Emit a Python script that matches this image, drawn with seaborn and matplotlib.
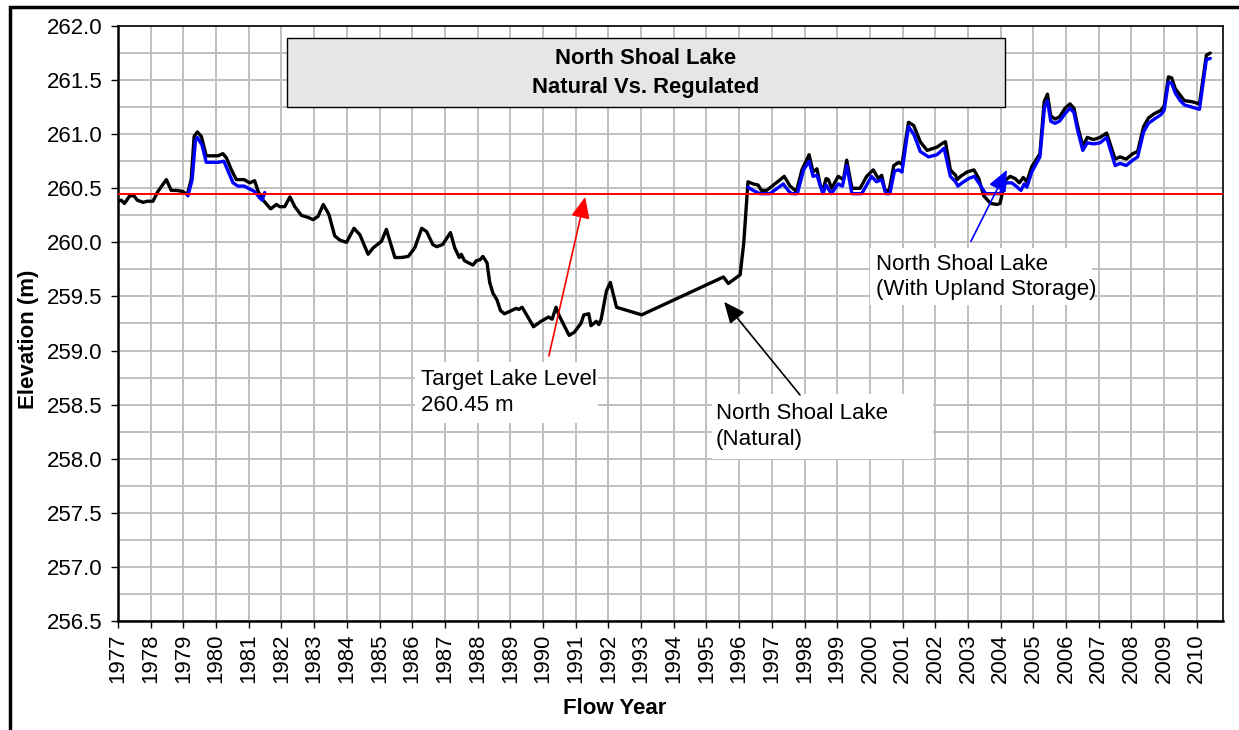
import pandas as pd
import numpy as np

import seaborn as sns
import matplotlib.pyplot as plt
from matplotlib.patches import Rectangle

# North Shoal Lake - natural levels (m)
natural_year = [
    1977.00, 1977.10, 1977.20, 1977.36, 1977.49, 1977.59, 1977.77, 1977.90, 1978.07, 1978.22,
    1978.48, 1978.63, 1978.79, 1978.99, 1979.12, 1979.24, 1979.33, 1979.43, 1979.55, 1979.70,
    1980.06, 1980.21, 1980.32, 1980.47, 1980.62, 1980.86, 1981.03, 1981.18, 1981.29, 1981.44,
    1981.67, 1981.85, 1981.95, 1982.10, 1982.26, 1982.41, 1982.61, 1982.82, 1982.97, 1983.12,
    1983.28, 1983.45, 1983.63, 1983.79, 1983.99, 1984.22, 1984.40, 1984.65, 1984.81, 1985.06,
    1985.21, 1985.47, 1985.67, 1985.88, 1986.08, 1986.29, 1986.44, 1986.63, 1986.75, 1986.93,
    1987.17, 1987.30, 1987.44, 1987.50, 1987.60, 1987.86, 1987.96, 1988.08, 1988.16, 1988.29,
    1988.37, 1988.47, 1988.59, 1988.70, 1988.82, 1988.97, 1989.18, 1989.26, 1989.36, 1989.50,
    1989.71, 1989.94, 1990.17, 1990.28, 1990.40, 1990.50, 1990.65, 1990.80, 1990.96, 1991.16,
    1991.25, 1991.40, 1991.47, 1991.63, 1991.71, 1991.78, 1991.94, 1992.06, 1992.25, 1993.02,
    1995.52, 1995.67, 1996.03, 1996.14, 1996.27, 1996.43, 1996.58, 1996.68, 1996.84, 1997.05,
    1997.38, 1997.56, 1997.75, 1997.92, 1998.14, 1998.26, 1998.38, 1998.48, 1998.56, 1998.66,
    1998.73, 1998.83, 1999.03, 1999.19, 1999.29, 1999.45, 1999.70, 1999.90, 2000.10, 2000.26,
    2000.36, 2000.46, 2000.59, 2000.73, 2000.88, 2000.98, 2001.18, 2001.34, 2001.54, 2001.75,
    2002.05, 2002.24, 2002.31, 2002.46, 2002.62, 2002.67, 2002.77, 2002.97, 2003.18, 2003.33,
    2003.48, 2003.69, 2003.89, 2003.98, 2004.13, 2004.29, 2004.44, 2004.57, 2004.69, 2004.80,
    2004.95, 2005.20, 2005.33, 2005.43, 2005.53, 2005.66, 2005.80, 2005.97, 2006.12, 2006.24,
    2006.35, 2006.51, 2006.65, 2006.84, 2007.04, 2007.24, 2007.50, 2007.65, 2007.84, 2008.04,
    2008.19, 2008.37, 2008.52, 2008.70, 2008.90, 2009.00, 2009.13, 2009.23, 2009.34, 2009.49,
    2009.62, 2009.85, 2010.08, 2010.29, 2010.41,
]
natural_elev = [
    260.38, 260.39, 260.36, 260.43, 260.43, 260.39, 260.37, 260.38, 260.38, 260.47,
    260.58, 260.48, 260.48, 260.47, 260.44, 260.58, 260.98, 261.02, 260.98, 260.80,
    260.80, 260.82, 260.78, 260.67, 260.58, 260.58, 260.55, 260.57, 260.47, 260.39,
    260.31, 260.35, 260.33, 260.33, 260.42, 260.33, 260.25, 260.23, 260.21, 260.24,
    260.35, 260.26, 260.06, 260.02, 260.00, 260.13, 260.07, 259.89, 259.95, 260.01,
    260.12, 259.86, 259.86, 259.87, 259.95, 260.13, 260.10, 259.98, 259.96, 259.98,
    260.09, 259.95, 259.86, 259.89, 259.83, 259.79, 259.83, 259.84, 259.87, 259.81,
    259.63, 259.53, 259.47, 259.37, 259.34, 259.36, 259.39, 259.38, 259.40, 259.33,
    259.22, 259.27, 259.31, 259.29, 259.40, 259.32, 259.23, 259.14, 259.17, 259.25,
    259.33, 259.34, 259.23, 259.27, 259.24, 259.29, 259.55, 259.63, 259.40, 259.33,
    259.68, 259.62, 259.70, 259.99, 260.56, 260.54, 260.53, 260.48, 260.48, 260.53,
    260.61, 260.52, 260.47, 260.67, 260.81, 260.65, 260.68, 260.53, 260.48, 260.59,
    260.58, 260.50, 260.61, 260.58, 260.76, 260.50, 260.50, 260.61, 260.67, 260.59,
    260.62, 260.48, 260.48, 260.71, 260.74, 260.72, 261.11, 261.08, 260.93, 260.85,
    260.88, 260.92, 260.93, 260.67, 260.62, 260.58, 260.61, 260.65, 260.67, 260.59,
    260.43, 260.36, 260.35, 260.36, 260.57, 260.61, 260.59, 260.55, 260.60, 260.56,
    260.70, 260.82, 261.30, 261.37, 261.17, 261.14, 261.16, 261.24, 261.28, 261.24,
    261.08, 260.89, 260.97, 260.95, 260.97, 261.01, 260.77, 260.79, 260.77, 260.82,
    260.84, 261.07, 261.15, 261.19, 261.22, 261.26, 261.53, 261.52, 261.42, 261.36,
    261.31, 261.30, 261.28, 261.73, 261.75,
]

# North Shoal Lake - with upland storage (two separate runs)
upland_year_a = [
    1979.14, 1979.27, 1979.37, 1979.43, 1979.57, 1979.70, 1980.06, 1980.24, 1980.52, 1980.67,
    1980.86, 1981.18, 1981.34, 1981.41, 1981.49,
]
upland_elev_a = [
    260.43, 260.58, 260.94, 260.97, 260.90, 260.74, 260.74, 260.75, 260.55, 260.52,
    260.52, 260.47, 260.41, 260.39, 260.46,
]
upland_year_b = [
    1996.27, 1996.43, 1996.63, 1996.94, 1997.35, 1997.50, 1997.60, 1997.78, 1997.97, 1998.14,
    1998.26, 1998.38, 1998.56, 1998.66, 1998.82, 1999.03, 1999.16, 1999.29, 1999.45, 1999.75,
    2000.05, 2000.20, 2000.36, 2000.49, 2000.61, 2000.75, 2000.88, 2000.98, 2001.18, 2001.34,
    2001.54, 2001.79, 2002.05, 2002.27, 2002.46, 2002.62, 2002.69, 2002.82, 2003.02, 2003.19,
    2003.33, 2003.54, 2003.98, 2004.16, 2004.34, 2004.47, 2004.62, 2004.72, 2004.80, 2004.95,
    2005.20, 2005.34, 2005.43, 2005.53, 2005.66, 2005.80, 2005.97, 2006.12, 2006.24, 2006.35,
    2006.51, 2006.65, 2006.84, 2007.04, 2007.24, 2007.50, 2007.65, 2007.84, 2008.04, 2008.19,
    2008.37, 2008.52, 2008.70, 2008.90, 2009.00, 2009.13, 2009.23, 2009.34, 2009.49, 2009.62,
    2009.85, 2010.08, 2010.29, 2010.41,
]
upland_elev_b = [
    260.51, 260.48, 260.45, 260.45, 260.54, 260.48, 260.45, 260.45, 260.67, 260.75,
    260.61, 260.62, 260.45, 260.53, 260.45, 260.54, 260.52, 260.71, 260.45, 260.45,
    260.61, 260.56, 260.58, 260.45, 260.45, 260.66, 260.67, 260.65, 261.07, 261.00,
    260.84, 260.79, 260.81, 260.87, 260.61, 260.56, 260.52, 260.55, 260.59, 260.61,
    260.55, 260.45, 260.45, 260.55, 260.55, 260.52, 260.48, 260.54, 260.51, 260.65,
    260.79, 261.25, 261.31, 261.12, 261.10, 261.12, 261.19, 261.24, 261.20, 261.04,
    260.85, 260.92, 260.91, 260.92, 260.97, 260.71, 260.73, 260.71, 260.76, 260.79,
    261.02, 261.10, 261.14, 261.18, 261.22, 261.48, 261.47, 261.38, 261.31, 261.27,
    261.25, 261.23, 261.69, 261.70,
]

target_level = 260.45
year_ticks = list(range(1977, 2011))
elev_ticks = [256.5, 257.0, 257.5, 258.0, 258.5, 259.0, 259.5, 260.0, 260.5, 261.0, 261.5, 262.0]


def PlotLakeLevels(outfile):

    natural = pd.DataFrame({'Year': natural_year, 'Elevation': natural_elev})
    upland = pd.DataFrame({
        'Year': upland_year_a + upland_year_b,
        'Elevation': upland_elev_a + upland_elev_b,
        'Run': ['a'] * len(upland_year_a) + ['b'] * len(upland_year_b),
    })

    sns.set_theme(style='white')
    plt.rcParams['font.family'] = ['Liberation Sans', 'DejaVu Sans']
    plt.rcParams['text.color'] = 'black'
    plt.rcParams['axes.labelcolor'] = 'black'
    plt.rcParams['xtick.color'] = 'black'
    plt.rcParams['ytick.color'] = 'black'

    fig = plt.figure(figsize=(12.39, 7.30), dpi=100)
    ax = fig.add_axes([0.0952, 0.1493, 0.8919, 0.8151])

    # grid like the excel chart
    ax.set_xticks(year_ticks)
    ax.set_yticks(elev_ticks)
    ax.set_yticks(np.arange(256.75, 262.0, 0.5), minor=True)
    ax.grid(True, which='both', color='#c0c0c0', linewidth=1.4)
    ax.set_axisbelow(True)

    sns.lineplot(data=natural, x='Year', y='Elevation', color='black', linewidth=2.4,
                 ax=ax, zorder=3, sort=False)
    sns.lineplot(data=upland, x='Year', y='Elevation', units='Run', estimator=None,
                 color='#0000ff', linewidth=2.4, ax=ax, zorder=4, sort=False)
    ax.axhline(target_level, color='#ff0000', linewidth=1.4, zorder=5)

    ax.set_xlim(1977, 2010.8)
    ax.set_ylim(256.5, 262.0)
    ax.set_yticklabels([f'{v:.1f}' for v in elev_ticks])
    ax.set_xticklabels([str(y) for y in year_ticks], rotation=90)
    ax.tick_params(axis='both', which='major', labelsize=16, direction='out',
                   length=5, width=1, color='black', labelcolor='black', left=True, bottom=True)
    ax.tick_params(axis='y', which='minor', length=0)
    ax.tick_params(axis='y', pad=6)
    ax.tick_params(axis='x', pad=4)

    for s in ax.spines.values():
        s.set_color('black')
        s.set_linewidth(1.2)
    ax.spines['left'].set_linewidth(1.8)
    ax.spines['bottom'].set_linewidth(1.8)

    ax.set_xlabel('Flow Year', fontsize=16, fontweight='bold', color='black')
    ax.set_ylabel('Elevation (m)', fontsize=16, fontweight='bold', color='black')
    ax.xaxis.set_label_coords(0.4498, -0.129)
    ax.yaxis.set_label_coords(-0.071, 0.474)

    # title box
    ax.add_patch(Rectangle((0.153, 0.864), 0.6497, 0.116, transform=ax.transAxes,
                           facecolor='#e6e6e6', edgecolor='black', linewidth=1, zorder=6))
    ax.text(0.4778, 0.921, 'North Shoal Lake\nNatural Vs. Regulated', transform=ax.transAxes,
            ha='center', va='center', fontsize=15.8, fontweight='bold', linespacing=1.45,
            color='black', zorder=7)

    # label boxes
    ax.add_patch(Rectangle((1986.09, 258.330), 5.59, 0.564, facecolor='white',
                           edgecolor='none', zorder=6))
    ax.text(1986.27, 258.61, 'Target Lake Level\n260.45 m', ha='left', va='center',
            fontsize=16, linespacing=1.3, color='black', zorder=7)
    ax.add_patch(Rectangle((1995.17, 257.997), 6.76, 0.601, facecolor='white',
                           edgecolor='none', zorder=6))
    ax.text(1995.29, 258.30, 'North Shoal Lake\n(Natural)', ha='left', va='center',
            fontsize=16, linespacing=1.3, color='black', zorder=7)
    ax.add_patch(Rectangle((2000.0, 259.421), 6.79, 0.527, facecolor='white',
                           edgecolor='none', zorder=6))
    ax.text(2000.19, 259.68, 'North Shoal Lake\n(With Upland Storage)', ha='left', va='center',
            fontsize=16, linespacing=1.3, color='black', zorder=7)

    arrow = dict(arrowstyle='-|>,head_length=0.5,head_width=0.22', mutation_scale=26,
                 linewidth=1.2, shrinkA=0, shrinkB=0)
    ax.annotate('', xy=(1991.29, 260.42), xytext=(1990.18, 258.95),
                arrowprops=dict(arrow, color='#ff0000'), zorder=8)
    ax.annotate('', xy=(1995.54, 259.45), xytext=(1997.86, 258.59),
                arrowprops=dict(arrow, color='black'), zorder=8)
    ax.annotate('', xy=(2004.19, 260.67), xytext=(2003.09, 260.01),
                arrowprops=dict(arrow, color='#0000ff'), zorder=8)

    # outer chart frame
    fig.add_artist(Rectangle((10 / 1239, -0.05), 1.2, 1.05 - 7.5 / 730, transform=fig.transFigure,
                             fill=False, edgecolor='black', linewidth=2.5, clip_on=False))

    fig.savefig(outfile, dpi=100)


def main():

    PlotLakeLevels("out.png")

if __name__ == "__main__":
    main()
